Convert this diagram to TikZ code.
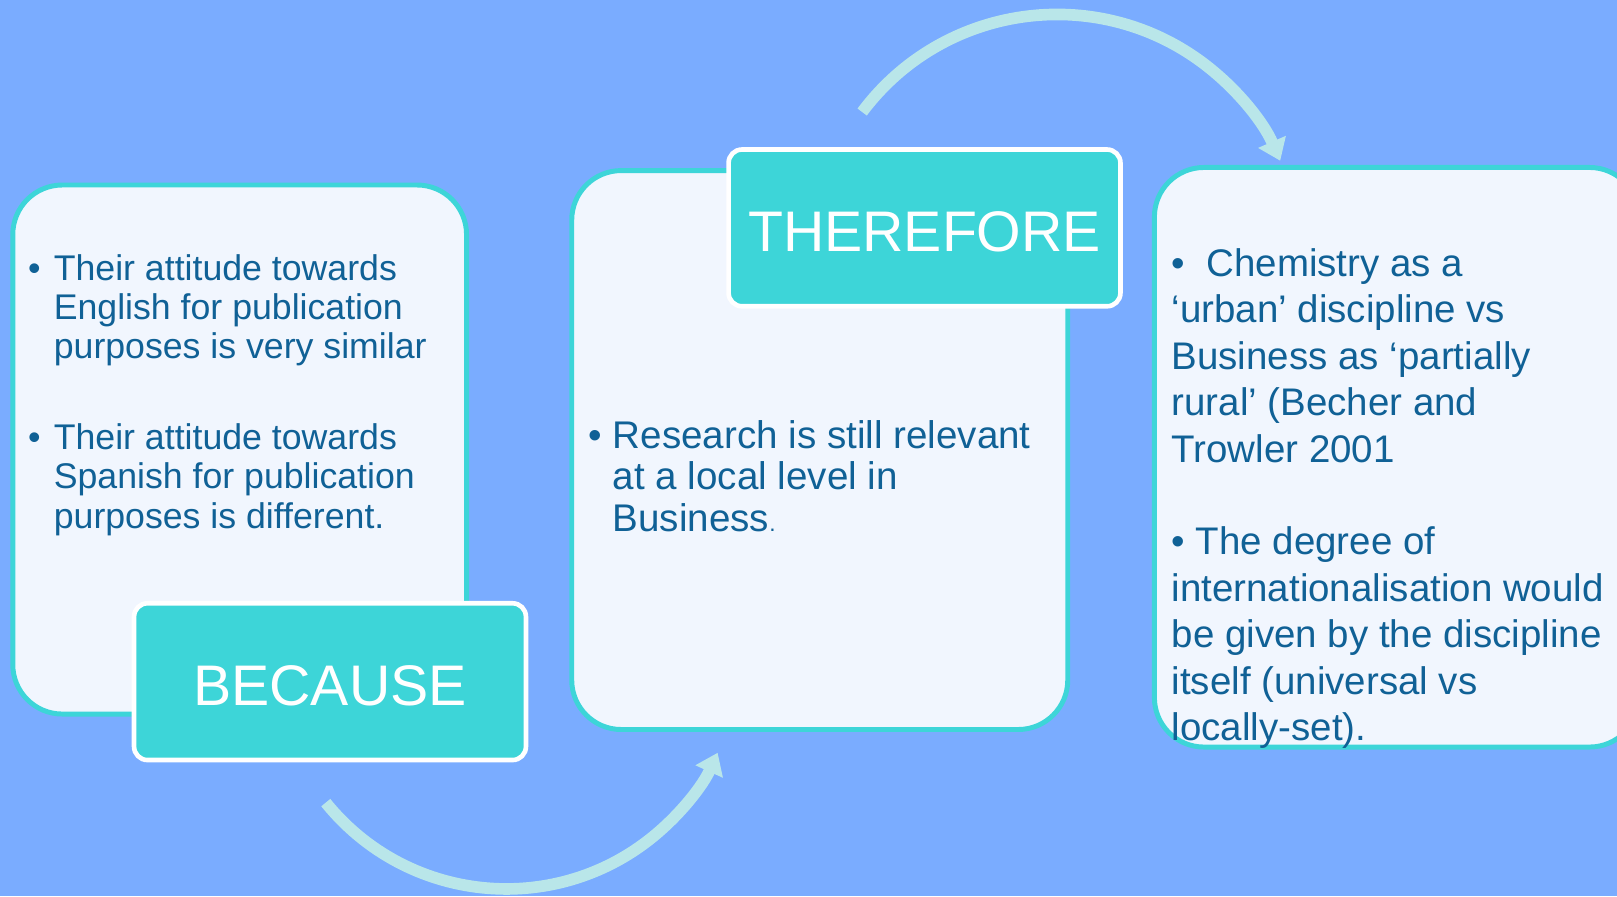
\documentclass[tikz,border=0pt]{standalone}
\usepackage{fontspec}
\setmainfont{Liberation Sans}
\usetikzlibrary{arrows.meta}
\definecolor{bg}{HTML}{7AACFF}
\definecolor{boxfill}{HTML}{F1F6FE}
\definecolor{tealc}{HTML}{3DD5D8}
\definecolor{arrowc}{HTML}{B9E6E9}
\definecolor{txtc}{HTML}{106196}
\begin{document}
\begin{tikzpicture}[x=1pt,y=-1pt,
  bigbox/.style={draw=tealc, line width=4.8pt, fill=boxfill, rounded corners=48pt, anchor=north west, inner sep=0pt},
  tagbox/.style={draw=white, line width=4.5pt, fill=tealc, rounded corners=13pt, text=white,
    font=\fontsize{55.5}{60}\selectfont, minimum width=380pt, minimum height=152pt, inner sep=0pt},
  txa/.style={text=txtc, font=\fontsize{34.6}{38}\selectfont, inner sep=0pt, anchor=base west},
  txb/.style={text=txtc, font=\fontsize{37.4}{40}\selectfont, inner sep=0pt, anchor=base west},
  txc/.style={text=txtc, font=\fontsize{37.3}{45}\selectfont, inner sep=0pt, anchor=base west},
  flow/.style={draw=arrowc, line width=11.3pt, -{Triangle[width=28pt,length=20pt]}}
]
\useasboundingbox (0,0) rectangle (1568,869);
\fill[bg] (0,0) rectangle (1568,869);
\begin{scope}
\clip (0,0) rectangle (1568,869);
% big boxes
\node[bigbox, minimum width=440pt, minimum height=513pt] (box1) at (10,177) {};
\node[bigbox, minimum width=481pt, minimum height=542pt] (box2) at (552,163) {};
\node[bigbox, minimum width=470pt, minimum height=562pt] (box3) at (1117,160) {};
% tags
\node[tagbox] (because) at (320,661) {\raisebox{-4pt}[\height][\depth]{BECAUSE}};
\node[tagbox] (therefore) at (896.5,221) {\raisebox{-4pt}[\height][\depth]{THEREFORE}};
% box 1 text
\node[txa] (b1a) at (27,272) {•};
\foreach \t [count=\i] in {Their attitude towards,English for publication,purposes is very similar}
  \node[txa] (p1l\i) at (52,{272+38*(\i-1)}) {\t};
\node[txa] (b1b) at (27,436) {•};
\foreach \t [count=\i] in {Their attitude towards,Spanish for publication,purposes is different.}
  \node[txa] (p2l\i) at (52,{436+38*(\i-1)}) {\t};
% box 2 text
\node[txb] (b2a) at (570,435) {•};
\node[txb] (q1) at (594,435) {Research is still relevant};
\node[txb] (q2) at (594,475) {at a local level in};
\node[txb] (q3) at (594,515) {Business{\fontsize{22}{22}\selectfont.}};
% box 3 text
\foreach \t [count=\i] in {•\ \ Chemistry as a,‘urban’ discipline vs,Business as ‘partially,rural’ (Becher and,Trowler 2001}
  \node[txc] (r1l\i) at (1136,{268+45*(\i-1)}) {\t};
\foreach \t [count=\i] in {• The degree of,internationalisation would,be given by the discipline,itself (universal vs,locally-set).}
  \node[txc] (r2l\i) at (1136,{538+45*(\i-1)}) {\t};
% curved arrows
\coordinate (c1) at (1025,250);
\coordinate (c2) at (491,637);
\draw[flow] (c1) ++(143.2:236pt) arc[start angle=143.2, end angle=23.5, radius=236pt];
\draw[flow] (c2) ++(-141.1:225pt) arc[start angle=-141.1, end angle=-24.4, radius=225pt];
\end{scope}
\end{tikzpicture}
\end{document}
